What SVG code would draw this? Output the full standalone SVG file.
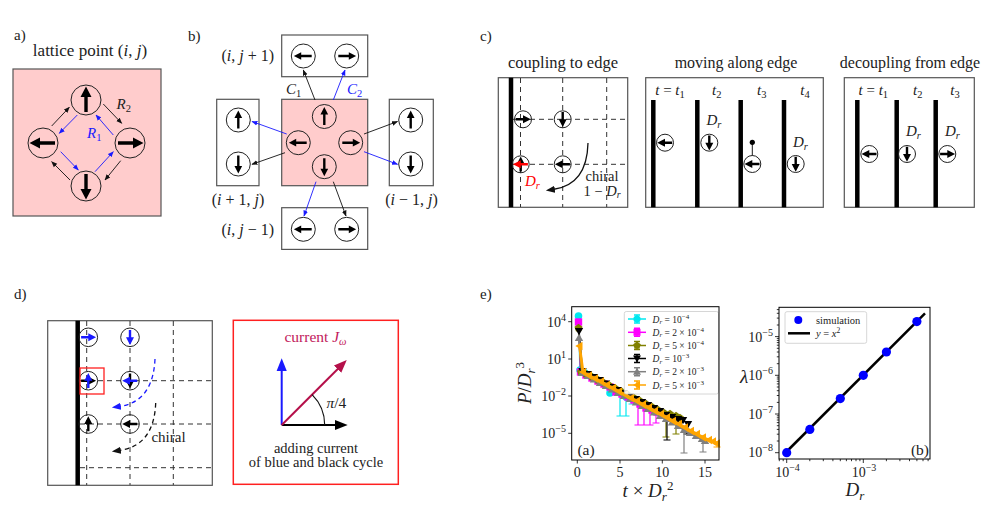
<svg xmlns="http://www.w3.org/2000/svg" xmlns:xlink="http://www.w3.org/1999/xlink" width="996" height="520" viewBox="0 0 996 520">
<defs>
<style>
text{font-family:"Liberation Serif","DejaVu Serif",serif;fill:#222}
.i{font-style:italic}
.c{fill:none;stroke:#222;stroke-width:1}
.box{fill:#fff;stroke:#555;stroke-width:1.2}
.pink{fill:#ffcccc;stroke:#555;stroke-width:1.2}
.dash{fill:none;stroke:#333;stroke-width:1;stroke-dasharray:5,4}
.ck{fill:none;stroke:#111;stroke-width:0.9;marker-end:url(#ak)}
.cb{fill:none;stroke:#1a1aff;stroke-width:0.9;marker-end:url(#ab)}
.wall{stroke:#000;stroke-width:4.5}
.ax{fill:none;stroke:#000;stroke-width:1}
.tk{stroke:#000;stroke-width:0.8}
.tl{font-size:14px}
.lg{font-size:9.5px}
.lg2{font-size:10.5px}
</style>
<marker id="ak" viewBox="0 0 10 10" refX="9" refY="5" markerWidth="6" markerHeight="6" markerUnits="userSpaceOnUse" orient="auto"><path d="M0,1 L10,5 L0,9 z" fill="#111"/></marker>
<marker id="ab" viewBox="0 0 10 10" refX="9" refY="5" markerWidth="6" markerHeight="6" markerUnits="userSpaceOnUse" orient="auto"><path d="M0,1 L10,5 L0,9 z" fill="#1a1aff"/></marker>
<marker id="hk" viewBox="0 0 10 10" refX="2" refY="5" markerWidth="9" markerHeight="9" markerUnits="userSpaceOnUse" orient="auto"><path d="M0,1 L10,5 L0,9 z" fill="#111"/></marker>
<marker id="hb" viewBox="0 0 10 10" refX="2" refY="5" markerWidth="9" markerHeight="9" markerUnits="userSpaceOnUse" orient="auto"><path d="M0,1 L10,5 L0,9 z" fill="#1a1aff"/></marker>
<marker id="vk" viewBox="0 0 10 10" refX="1" refY="5" markerWidth="13" markerHeight="13" markerUnits="userSpaceOnUse" orient="auto"><path d="M0,1 L10,5 L0,9 z" fill="#000"/></marker>
<marker id="vb" viewBox="0 0 10 10" refX="1" refY="5" markerWidth="13" markerHeight="13" markerUnits="userSpaceOnUse" orient="auto"><path d="M0,1 L10,5 L0,9 z" fill="#1a1aff"/></marker>
<marker id="vr" viewBox="0 0 10 10" refX="1" refY="5" markerWidth="13" markerHeight="13" markerUnits="userSpaceOnUse" orient="auto"><path d="M0,1 L10,5 L0,9 z" fill="#b5104a"/></marker>
<marker id="mc" viewBox="-5 -5 10 10" markerWidth="10" markerHeight="10" markerUnits="userSpaceOnUse"><circle r="3.8" fill="#00e8f0"/></marker>
<marker id="ms" viewBox="-5 -5 10 10" markerWidth="10" markerHeight="10" markerUnits="userSpaceOnUse"><rect x="-3.7" y="-3.7" width="7.4" height="7.4" fill="#ff00ff"/></marker>
<marker id="mp" viewBox="-5 -5 10 10" markerWidth="10" markerHeight="10" markerUnits="userSpaceOnUse"><path d="M0,-4.2 L4,-1.3 L2.5,3.4 L-2.5,3.4 L-4,-1.3 Z" fill="#808000"/></marker>
<marker id="md" viewBox="-5 -5 10 10" markerWidth="10" markerHeight="10" markerUnits="userSpaceOnUse"><path d="M-4.2,-3 L4.2,-3 L0,4.2 Z" fill="#000"/></marker>
<marker id="mu" viewBox="-5 -5 10 10" markerWidth="10" markerHeight="10" markerUnits="userSpaceOnUse"><path d="M-4.2,3 L4.2,3 L0,-4.2 Z" fill="#808080"/></marker>
<marker id="ml" viewBox="-5 -5 10 10" markerWidth="10" markerHeight="10" markerUnits="userSpaceOnUse"><path d="M3,-4.2 L3,4.2 L-4.2,0 Z" fill="#ffa500"/></marker>
<path id="ar" d="M-1.7,12 V-3 H-5.5 L0,-13.5 L5.5,-3 H1.7 V12 Z"/>
<path id="as" d="M-1.2,7.2 V0 H-4 L0,-7.8 L4,0 H1.2 V7.2 Z"/>
</defs>

<!-- panel a -->
<g id="panel-a">
<text x="14" y="40" font-size="15">a)</text>
<text x="90" y="56" font-size="17" text-anchor="middle">lattice point (<tspan class="i">i</tspan>, <tspan class="i">j</tspan>)</text>
<rect class="pink" x="13" y="69" width="148" height="147"/>
</g>
<g id="a-up"><circle class="c" cx="86" cy="100" r="15"/><use xlink:href="#ar" href="#ar" transform="translate(86,100)"/></g>
<g id="a-left"><circle class="c" cx="43" cy="143" r="15"/><use xlink:href="#ar" href="#ar" transform="translate(43,143) rotate(-90)"/></g>
<g id="a-right"><circle class="c" cx="130" cy="143" r="15"/><use xlink:href="#ar" href="#ar" transform="translate(130,143) rotate(90)"/></g>
<g id="a-down"><circle class="c" cx="86" cy="186" r="15"/><use xlink:href="#ar" href="#ar" transform="translate(86,186) rotate(180)"/></g>
<g id="a-connectors">
<line class="ck" x1="51.7" y1="126" x2="69.3" y2="107.3"/>
<line class="ck" x1="103.3" y1="104" x2="121.7" y2="123.3"/>
<line class="ck" x1="120.7" y1="160.7" x2="105" y2="180"/>
<line class="ck" x1="70" y1="180" x2="51.7" y2="161.7"/>
<line class="cb" x1="77.3" y1="115" x2="59.3" y2="133.3"/>
<line class="cb" x1="60.7" y1="151.7" x2="78.3" y2="170"/>
<line class="cb" x1="95" y1="171.7" x2="113.3" y2="151.7"/>
<line class="cb" x1="113.3" y1="135" x2="96" y2="115"/>
<text class="i" x="116.5" y="109" font-size="15">R<tspan font-size="10.5" dy="3" font-style="normal">2</tspan></text>
<text class="i" x="87" y="138" font-size="15" style="fill:#1a1aff">R<tspan font-size="10.5" dy="3" font-style="normal">1</tspan></text>
</g>

<!-- panel b -->
<text x="188" y="41" font-size="15">b)</text>
<g id="b-top">
<rect class="box" x="281.7" y="35" width="86" height="41.7"/>
<circle class="c" cx="303.3" cy="56" r="12"/><use href="#ar" xlink:href="#ar" transform="translate(303.3,56) rotate(-90) scale(0.7)"/>
<circle class="c" cx="346.7" cy="56" r="12"/><use href="#ar" xlink:href="#ar" transform="translate(346.7,56) rotate(90) scale(0.7)"/>
<text x="274" y="61" font-size="16" text-anchor="end">(<tspan class="i">i</tspan>, <tspan class="i">j</tspan> + 1)</text>
</g>
<g id="b-center">
<rect class="pink" x="281.7" y="99.3" width="86" height="86.4"/>
<circle class="c" cx="324.3" cy="116.5" r="12"/><use href="#ar" xlink:href="#ar" transform="translate(324.3,116.5) scale(0.7)"/>
<circle class="c" cx="298.3" cy="142.7" r="12"/><use href="#ar" xlink:href="#ar" transform="translate(298.3,142.7) rotate(-90) scale(0.7)"/>
<circle class="c" cx="350.7" cy="142.7" r="12"/><use href="#ar" xlink:href="#ar" transform="translate(350.7,142.7) rotate(90) scale(0.7)"/>
<circle class="c" cx="324.3" cy="166.7" r="12"/><use href="#ar" xlink:href="#ar" transform="translate(324.3,166.7) rotate(180) scale(0.7)"/>
</g>
<g id="b-left">
<rect class="box" x="216.7" y="99.3" width="42.3" height="86.4"/>
<circle class="c" cx="238.3" cy="120" r="12"/><use href="#ar" xlink:href="#ar" transform="translate(238.3,120) scale(0.7)"/>
<circle class="c" cx="238.3" cy="164" r="12"/><use href="#ar" xlink:href="#ar" transform="translate(238.3,164) rotate(180) scale(0.7)"/>
<text x="238" y="205" font-size="16" text-anchor="middle">(<tspan class="i">i</tspan> + 1, <tspan class="i">j</tspan>)</text>
</g>
<g id="b-right">
<rect class="box" x="389.3" y="99.3" width="44" height="86.4"/>
<circle class="c" cx="410.7" cy="120" r="12"/><use href="#ar" xlink:href="#ar" transform="translate(410.7,120) scale(0.7)"/>
<circle class="c" cx="410.7" cy="164" r="12"/><use href="#ar" xlink:href="#ar" transform="translate(410.7,164) rotate(180) scale(0.7)"/>
<text x="411.5" y="205" font-size="16" text-anchor="middle">(<tspan class="i">i</tspan> − 1, <tspan class="i">j</tspan>)</text>
</g>
<g id="b-bottom">
<rect class="box" x="281.7" y="207.7" width="86" height="41.7"/>
<circle class="c" cx="303.3" cy="229.3" r="12"/><use href="#ar" xlink:href="#ar" transform="translate(303.3,229.3) rotate(-90) scale(0.7)"/>
<circle class="c" cx="346.7" cy="229.3" r="12"/><use href="#ar" xlink:href="#ar" transform="translate(346.7,229.3) rotate(90) scale(0.7)"/>
<text x="274" y="235" font-size="16" text-anchor="end">(<tspan class="i">i</tspan>, <tspan class="i">j</tspan> − 1)</text>
</g>
<g id="b-connectors">
<line class="ck" x1="315" y1="100" x2="303.3" y2="70"/>
<line class="cb" x1="333.3" y1="100" x2="345" y2="70"/>
<line class="cb" x1="286.7" y1="134" x2="252" y2="121.5"/>
<line class="ck" x1="285" y1="152.7" x2="252" y2="164.3"/>
<line class="ck" x1="364" y1="134" x2="397.5" y2="121.5"/>
<line class="cb" x1="364" y1="151.7" x2="397.5" y2="164.3"/>
<line class="cb" x1="316" y1="181.7" x2="304" y2="216"/>
<line class="ck" x1="333.3" y1="181.7" x2="346" y2="216"/>
<text class="i" x="286" y="94" font-size="15">C<tspan font-size="10.5" dy="3" font-style="normal">1</tspan></text>
<text class="i" x="347" y="94" font-size="15" style="fill:#1a1aff">C<tspan font-size="10.5" dy="3" font-style="normal">2</tspan></text>
</g>

<!-- panel c -->
<text x="480" y="41" font-size="15">c)</text>
<g id="c-coupling">
<text x="563" y="68" font-size="16.5" text-anchor="middle">coupling to edge</text>
<rect class="box" x="498.3" y="77.7" width="129.4" height="129.6"/>
<line class="dash" x1="520.5" y1="78" x2="520.5" y2="207"/>
<line class="dash" x1="562.7" y1="78" x2="562.7" y2="207"/>
<line class="dash" x1="606.7" y1="78" x2="606.7" y2="207"/>
<line class="dash" x1="512" y1="119.3" x2="627" y2="119.3"/>
<line class="dash" x1="512" y1="164.3" x2="627" y2="164.3"/>
<line class="wall" x1="511" y1="77.7" x2="511" y2="207.3"/>
<circle class="c" cx="523" cy="119.3" r="8.5"/><use href="#as" xlink:href="#as" transform="translate(523,119.3) rotate(90)"/>
<circle class="c" cx="562.7" cy="119.3" r="8.5"/><use href="#as" xlink:href="#as" transform="translate(562.7,119.3) rotate(180)"/>
<circle class="c" cx="562.7" cy="164.3" r="8.5"/><use href="#as" xlink:href="#as" transform="translate(562.7,164.3) rotate(-90)"/>
<circle class="c" cx="520.7" cy="164.3" r="8.5"/><use href="#as" xlink:href="#as" transform="translate(520.7,164.3)"/>
<use href="#as" xlink:href="#as" fill="#ff0000" transform="translate(520.7,164.3) rotate(-90)"/>
<text class="i" x="525" y="186" font-size="15" style="fill:#ff0000">D<tspan font-size="10.5" dy="3">r</tspan></text>
<path d="M588,143 Q587,185 553,189.5" fill="none" stroke="#111" stroke-width="1.3" marker-end="url(#hk)"/>
<text x="602" y="180.5" font-size="14.5" text-anchor="middle">chiral</text>
<text x="602" y="195.5" font-size="14.5" text-anchor="middle">1 − <tspan class="i">D</tspan><tspan class="i" font-size="10" dy="2.5">r</tspan></text>
</g>
<g id="c-moving">
<text x="736" y="68" font-size="16" text-anchor="middle">moving along edge</text>
<rect class="box" x="645.7" y="77.7" width="177.6" height="129.6"/>
<line class="wall" x1="653.3" y1="100" x2="653.3" y2="207.3"/>
<line class="wall" x1="697.3" y1="100" x2="697.3" y2="207.3"/>
<line class="wall" x1="740.7" y1="100" x2="740.7" y2="207.3"/>
<line class="wall" x1="784" y1="100" x2="784" y2="207.3"/>
<text x="670" y="95" font-size="15" text-anchor="middle"><tspan class="i">t</tspan> = <tspan class="i">t</tspan><tspan font-size="10.5" dy="3">1</tspan></text>
<text x="716.7" y="95" font-size="15" text-anchor="middle"><tspan class="i">t</tspan><tspan font-size="10.5" dy="3">2</tspan></text>
<text x="761.7" y="95" font-size="15" text-anchor="middle"><tspan class="i">t</tspan><tspan font-size="10.5" dy="3">3</tspan></text>
<text x="805" y="95" font-size="15" text-anchor="middle"><tspan class="i">t</tspan><tspan font-size="10.5" dy="3">4</tspan></text>
<circle class="c" cx="665" cy="142.7" r="8.5"/><use href="#as" xlink:href="#as" transform="translate(665,142.7) rotate(-90)"/>
<circle class="c" cx="709.3" cy="142.7" r="8.5"/><use href="#as" xlink:href="#as" transform="translate(709.3,142.7) rotate(180)"/>
<text class="i" x="706.5" y="125" font-size="15">D<tspan font-size="10.5" dy="3">r</tspan></text>
<circle class="c" cx="752.3" cy="164" r="8.5"/><use href="#as" xlink:href="#as" transform="translate(752.3,164) rotate(-90)"/>
<circle cx="752.3" cy="142.3" r="2.6" fill="#000"/>
<line x1="752.3" y1="143" x2="752.3" y2="155.5" stroke="#000" stroke-width="0.9"/>
<circle class="c" cx="795.7" cy="164" r="8.5"/><use href="#as" xlink:href="#as" transform="translate(795.7,164) rotate(180)"/>
<text class="i" x="793" y="146.5" font-size="15">D<tspan font-size="10.5" dy="3">r</tspan></text>
</g>
<g id="c-decoupling">
<text x="910" y="68" font-size="16" text-anchor="middle">decoupling from edge</text>
<rect class="box" x="844.3" y="77.7" width="130" height="129.6"/>
<line class="wall" x1="857.3" y1="100" x2="857.3" y2="207.3"/>
<line class="wall" x1="896.7" y1="100" x2="896.7" y2="207.3"/>
<line class="wall" x1="935.7" y1="100" x2="935.7" y2="207.3"/>
<text x="873.3" y="95" font-size="15" text-anchor="middle"><tspan class="i">t</tspan> = <tspan class="i">t</tspan><tspan font-size="10.5" dy="3">1</tspan></text>
<text x="917.7" y="95" font-size="15" text-anchor="middle"><tspan class="i">t</tspan><tspan font-size="10.5" dy="3">2</tspan></text>
<text x="955" y="95" font-size="15" text-anchor="middle"><tspan class="i">t</tspan><tspan font-size="10.5" dy="3">3</tspan></text>
<circle class="c" cx="869.3" cy="154" r="8.5"/><use href="#as" xlink:href="#as" transform="translate(869.3,154) rotate(-90)"/>
<circle class="c" cx="907" cy="154" r="8.5"/><use href="#as" xlink:href="#as" transform="translate(907,154) rotate(180)"/>
<circle class="c" cx="947.3" cy="154" r="8.5"/><use href="#as" xlink:href="#as" transform="translate(947.3,154) rotate(90)"/>
<text class="i" x="906" y="136" font-size="15">D<tspan font-size="10.5" dy="3">r</tspan></text>
<text class="i" x="945" y="136" font-size="15">D<tspan font-size="10.5" dy="3">r</tspan></text>
</g>

<!-- panel d -->
<text x="14" y="299" font-size="15">d)</text>
<g id="d-lattice">
<rect class="box" x="47.7" y="320.7" width="164.6" height="164.6"/>
<line class="dash" x1="86.7" y1="321" x2="86.7" y2="485"/>
<line class="dash" x1="130" y1="321" x2="130" y2="485"/>
<line class="dash" x1="173.3" y1="321" x2="173.3" y2="485"/>
<line class="dash" x1="80" y1="380.7" x2="212" y2="380.7"/>
<line class="dash" x1="80" y1="424" x2="212" y2="424"/>
<line class="dash" x1="80" y1="467.7" x2="212" y2="467.7"/>
<line class="wall" x1="77.7" y1="320.7" x2="77.7" y2="485.3"/>
<circle class="c" cx="88.3" cy="337.3" r="9.3"/><use href="#as" xlink:href="#as" fill="#1a1aff" transform="translate(88.3,337.3) rotate(90)"/>
<circle class="c" cx="130" cy="337.3" r="9.3"/><use href="#as" xlink:href="#as" fill="#1a1aff" transform="translate(130,337.3) rotate(180)"/>
<circle class="c" cx="88.3" cy="380.7" r="9.3"/><use href="#as" xlink:href="#as" transform="translate(88.3,380.7) rotate(90)"/><use href="#as" xlink:href="#as" fill="#1a1aff" transform="translate(88.3,380.7)"/>
<circle class="c" cx="130" cy="380.7" r="9.3"/><use href="#as" xlink:href="#as" transform="translate(130,380.7) rotate(180)"/><use href="#as" xlink:href="#as" fill="#1a1aff" transform="translate(130,380.7) rotate(-90)"/>
<circle class="c" cx="88.3" cy="424" r="9.3"/><use href="#as" xlink:href="#as" transform="translate(88.3,424)"/>
<circle class="c" cx="130" cy="424" r="9.3"/><use href="#as" xlink:href="#as" transform="translate(130,424) rotate(-90)"/>
<rect x="80" y="368" width="24" height="26" fill="none" stroke="#ff2020" stroke-width="1.3"/>
<path d="M155,359 Q153,402 119,406.5" fill="none" stroke="#1a1aff" stroke-width="1.3" stroke-dasharray="4.5,3.5" marker-end="url(#hb)"/>
<path d="M155.7,403 Q154,446 119,450.5" fill="none" stroke="#111" stroke-width="1.3" stroke-dasharray="4.5,3.5" marker-end="url(#hk)"/>
<text x="168.5" y="442" font-size="15" text-anchor="middle">chiral</text>
</g>
<g id="d-current">
<rect x="233.3" y="320.3" width="165" height="164" fill="#fff" stroke="#ff2020" stroke-width="1.5"/>
<text x="315.5" y="341.7" font-size="15.5" text-anchor="middle" style="fill:#c2185b">current <tspan class="i">J</tspan><tspan class="i" font-size="10.5" dy="3">ω</tspan></text>
<line x1="281.7" y1="425" x2="281.7" y2="370" stroke="#1a1aff" stroke-width="2" marker-end="url(#vb)"/>
<line x1="281.7" y1="425" x2="336" y2="425" stroke="#000" stroke-width="2" marker-end="url(#vk)"/>
<line x1="281.7" y1="425" x2="338.5" y2="368.2" stroke="#b5104a" stroke-width="2" marker-end="url(#vr)"/>
<path d="M324.7,425 A43,43 0 0 0 312.1,394.6" fill="none" stroke="#111" stroke-width="1.2"/>
<text x="326.5" y="407.5" font-size="15.5"><tspan class="i">π</tspan>/4</text>
<text x="316" y="452.5" font-size="14.5" text-anchor="middle">adding current</text>
<text x="316" y="467" font-size="14.5" text-anchor="middle">of blue and black cycle</text>
</g>

<!-- panel e -->
<text x="480" y="299" font-size="15">e)</text>
<g id="e-plot-a">
<g stroke-width="1.2" fill="none">
<path stroke="#00e8f0" d="M620,392V416M616.5,416H623.5M626,397V416M622.5,416H629.5M632,399V404M628.5,404H635.5"/>
<path stroke="#ff00ff" d="M638,403V425M634.5,425H641.5M644,406V425M640.5,425H647.5M650,409V425M646.5,425H653.5M656,412V423M652.5,423H659.5"/>
<path stroke="#808000" d="M666,413V437M662.5,437H669.5M676,416V434M672.5,434H679.5"/>
<path stroke="#000" d="M667,415V440M663.5,440H670.5M687,424V434M683.5,434H690.5"/>
<path stroke="#808080" d="M684,430V453M680.5,453H687.5M703,439V452M699.5,452H706.5"/>
<path stroke="#ffa500" d="M717,441V447M713.5,447H720.5"/>
</g>
<polyline fill="none" stroke="#00e8f0" stroke-width="1.5" marker-start="url(#mc)" marker-mid="url(#mc)" marker-end="url(#mc)" points="578.5,316 580,370 585,373 590,376 595,378.5 600,381 605,385 610,393 615,391 620,392 626,397 632,399"/>
<polyline fill="none" stroke="#ff00ff" stroke-width="1.5" marker-start="url(#ms)" marker-mid="url(#ms)" marker-end="url(#ms)" points="578.5,322 580.5,372 586,375 592,378 598,381 604,384 610,387 616,392 622,394 628,397 634,400 640,404 646,408 652,410 657,412"/>
<polyline fill="none" stroke="#808000" stroke-width="1.5" marker-start="url(#mp)" marker-mid="url(#mp)" marker-end="url(#mp)" points="578.5,328 581,372 586,374 592,377 598,380 604,383 610,386 616,389 622,392 628,395 634,398 640,401 646,404 652,407 658,410 664,413 670,414 676,416 680,418"/>
<polyline fill="none" stroke="#000" stroke-width="1.5" marker-start="url(#md)" marker-mid="url(#md)" marker-end="url(#md)" points="579,331 582.5,371 588,374 594,377 600,380 606,383.5 612,387 618,390 624,393 630,396 636,399 642,402 648,405 654,408 660,411 666,415 672,417 678,419 683,420 688,424"/>
<polyline fill="none" stroke="#808080" stroke-width="2" marker-start="url(#mu)" marker-mid="url(#mu)" marker-end="url(#mu)" points="579,338 582,373 588,376 594,379.5 600,383 606,386 612,389.5 618,393 624,396 630,399 636,402.5 642,406 648,409 654,412.5 660,416 666,419 672,422.5 678,426 684,430 690,433 696,436 702,439 705,441"/>
<polyline fill="none" stroke="#ffa500" stroke-width="2.8" marker-start="url(#ml)" marker-mid="url(#ml)" marker-end="url(#ml)" points="579.5,346 583,372 589,375.5 595,378.5 601,381.5 607,385 613,388 619,391.5 625,394.5 631,398 637,401 643,404.5 649,407.5 655,411 661,414 667,417.5 673,421 679,424 685,427.5 691,431 697,434 703,437.5 709,440 713,441.5 717,443.5"/>
<rect x="624.3" y="311.5" width="94.2" height="82.5" rx="2" fill="#fff" fill-opacity="0.85" stroke="#ccc" stroke-width="0.8"/>
<g stroke-width="1.5" fill="none">
<line x1="628" y1="319" x2="646" y2="319" stroke="#00e8f0"/><circle cx="637" cy="319" r="3.6" fill="#00e8f0" stroke="none"/><path d="M637,315V323M634,315H640M634,323H640" stroke="#00e8f0"/>
<line x1="628" y1="332.3" x2="646" y2="332.3" stroke="#ff00ff"/><rect x="633.5" y="328.8" width="7" height="7" fill="#ff00ff" stroke="none"/><path d="M637,328.3V336.3M634,328.3H640M634,336.3H640" stroke="#ff00ff"/>
<line x1="628" y1="345.5" x2="646" y2="345.5" stroke="#808000"/><path d="M637,341.5 L640.8,344.3 L639.4,348.8 L634.6,348.8 L633.2,344.3 Z" fill="#808000" stroke="none"/><path d="M637,341.5V349.5M634,341.5H640M634,349.5H640" stroke="#808000"/>
<line x1="628" y1="358.5" x2="646" y2="358.5" stroke="#000"/><path d="M633,355.5 L641,355.5 L637,362.5 Z" fill="#000" stroke="none"/><path d="M637,354.5V362.5M634,354.5H640M634,362.5H640" stroke="#000"/>
<line x1="628" y1="371.7" x2="646" y2="371.7" stroke="#808080"/><path d="M633,374.7 L641,374.7 L637,367.7 Z" fill="#808080" stroke="none"/><path d="M637,367.7V375.7M634,367.7H640M634,375.7H640" stroke="#808080"/>
<line x1="628" y1="385" x2="646" y2="385" stroke="#ffa500"/><path d="M640,381 L640,389 L633,385 Z" fill="#ffa500" stroke="none"/><path d="M637,381V389M634,381H640M634,389H640" stroke="#ffa500"/>
</g>
<g class="lg">
<text x="652.5" y="322.5"><tspan class="i">D</tspan><tspan class="i" font-size="7" dy="1.5">r</tspan><tspan dy="-1.5"> = 10</tspan><tspan font-size="7" dy="-4">−4</tspan></text>
<text x="652.5" y="335.8"><tspan class="i">D</tspan><tspan class="i" font-size="7" dy="1.5">r</tspan><tspan dy="-1.5"> = 2 × 10</tspan><tspan font-size="7" dy="-4">−4</tspan></text>
<text x="652.5" y="349"><tspan class="i">D</tspan><tspan class="i" font-size="7" dy="1.5">r</tspan><tspan dy="-1.5"> = 5 × 10</tspan><tspan font-size="7" dy="-4">−4</tspan></text>
<text x="652.5" y="362"><tspan class="i">D</tspan><tspan class="i" font-size="7" dy="1.5">r</tspan><tspan dy="-1.5"> = 10</tspan><tspan font-size="7" dy="-4">−3</tspan></text>
<text x="652.5" y="375.2"><tspan class="i">D</tspan><tspan class="i" font-size="7" dy="1.5">r</tspan><tspan dy="-1.5"> = 2 × 10</tspan><tspan font-size="7" dy="-4">−3</tspan></text>
<text x="652.5" y="388.5"><tspan class="i">D</tspan><tspan class="i" font-size="7" dy="1.5">r</tspan><tspan dy="-1.5"> = 5 × 10</tspan><tspan font-size="7" dy="-4">−3</tspan></text>
</g>
<rect class="ax" x="571.7" y="306.7" width="147.3" height="153.3"/>
<path class="tk" d="M577.3,460v3.5M620,460v3.5M662.3,460v3.5M705,460v3.5M571.7,321.7h-3.5M571.7,359h-3.5M571.7,396h-3.5M571.7,433.3h-3.5"/>
<g class="tl">
<text x="577.3" y="477" text-anchor="middle">0</text>
<text x="620" y="477" text-anchor="middle">5</text>
<text x="662.3" y="477" text-anchor="middle">10</text>
<text x="705" y="477" text-anchor="middle">15</text>
<text x="566" y="326.5" text-anchor="end">10<tspan font-size="10" dy="-6">4</tspan></text>
<text x="566" y="363.5" text-anchor="end">10<tspan font-size="10" dy="-6">1</tspan></text>
<text x="566" y="400.5" text-anchor="end">10<tspan font-size="10" dy="-6">−2</tspan></text>
<text x="566" y="438" text-anchor="end">10<tspan font-size="10" dy="-6">−5</tspan></text>
</g>
<text x="586" y="455" font-size="15.5" text-anchor="middle">(a)</text>
<text x="648" y="497" font-size="19" text-anchor="middle"><tspan class="i">t</tspan> × <tspan class="i">D</tspan><tspan class="i" font-size="13" dy="4">r</tspan><tspan font-size="13" dy="-11">2</tspan></text>
<text transform="translate(531,383) rotate(-90)" font-size="19" text-anchor="middle"><tspan class="i">P</tspan>/<tspan class="i">D</tspan><tspan class="i" font-size="13" dy="4">r</tspan><tspan font-size="13" dy="-11">3</tspan></text>
</g>
<g id="e-plot-b">
<line x1="786.7" y1="451.5" x2="925" y2="313.3" stroke="#000" stroke-width="2.5"/>
<g fill="#0000ff">
<circle cx="786.7" cy="452.7" r="4.6"/>
<circle cx="809.8" cy="429.4" r="4.6"/>
<circle cx="840.3" cy="398.6" r="4.6"/>
<circle cx="863.3" cy="375.3" r="4.6"/>
<circle cx="886.4" cy="352" r="4.6"/>
<circle cx="916.9" cy="321.6" r="4.6"/>
</g>
<rect x="785" y="311.7" width="81.7" height="31.6" rx="2" fill="#fff" fill-opacity="0.85" stroke="#ccc" stroke-width="0.8"/>
<circle cx="798.3" cy="320" r="4" fill="#0000ff"/>
<line x1="788" y1="333.3" x2="810" y2="333.3" stroke="#000" stroke-width="2.5"/>
<text x="816" y="324" class="lg2">simulation</text>
<text x="816" y="337" class="lg2"><tspan class="i">y</tspan> = <tspan class="i">x</tspan><tspan font-size="7.5" dy="-4">2</tspan></text>
<rect class="ax" x="779" y="307.3" width="151" height="151.7"/>
<path class="tk" d="M786.7,459v4M863.3,459v4M779,452.7h-4M779,414h-4M779,375.3h-4M779,336.6h-4"/>
<path class="tk" stroke-width="0.6" d="M779.3,459v2.2M783.2,459v2.2M809.8,459v2.2M823.3,459v2.2M832.9,459v2.2M840.3,459v2.2M846.4,459v2.2M851.5,459v2.2M856,459v2.2M859.9,459v2.2M886.4,459v2.2M899.9,459v2.2M909.5,459v2.2M916.9,459v2.2M923,459v2.2M928.1,459v2.2
M779,441h-2.2M779,434.2h-2.2M779,429.4h-2.2M779,425.7h-2.2M779,422.6h-2.2M779,420h-2.2M779,417.8h-2.2M779,415.8h-2.2
M779,402.4h-2.2M779,395.5h-2.2M779,390.7h-2.2M779,387h-2.2M779,383.9h-2.2M779,381.3h-2.2M779,379h-2.2M779,377.1h-2.2
M779,363.7h-2.2M779,356.8h-2.2M779,352h-2.2M779,348.3h-2.2M779,345.2h-2.2M779,342.6h-2.2M779,340.4h-2.2M779,338.4h-2.2
M779,325h-2.2M779,318.1h-2.2M779,313.3h-2.2M779,309.6h-2.2"/>
<g class="tl">
<text x="773" y="341.5" text-anchor="end">10<tspan font-size="10" dy="-6">−5</tspan></text>
<text x="773" y="380" text-anchor="end">10<tspan font-size="10" dy="-6">−6</tspan></text>
<text x="773" y="418.5" text-anchor="end">10<tspan font-size="10" dy="-6">−7</tspan></text>
<text x="773" y="457" text-anchor="end">10<tspan font-size="10" dy="-6">−8</tspan></text>
<text x="787.5" y="477" text-anchor="middle">10<tspan font-size="10" dy="-6">−4</tspan></text>
<text x="864" y="477" text-anchor="middle">10<tspan font-size="10" dy="-6">−3</tspan></text>
</g>
<text x="740" y="383" font-size="19" class="i">λ</text>
<text x="855" y="496" font-size="19" text-anchor="middle"><tspan class="i">D</tspan><tspan class="i" font-size="13" dy="4">r</tspan></text>
<text x="920" y="455" font-size="15.5" text-anchor="middle">(b)</text>
</g>
</svg>
